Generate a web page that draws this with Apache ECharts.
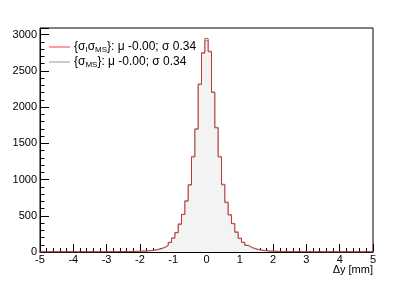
<!DOCTYPE html>
<html><head><meta charset="utf-8">
<script src="https://cdn.jsdelivr.net/npm/echarts@6/dist/echarts.min.js"></script>
<style>html,body{margin:0;padding:0;background:#fff}#c{width:415px;height:281px}</style>
</head><body><div id="c"></div>
<script>
// bin layout: 101 bins of width 0.1 centred on -5.0 ... 5.0
const binLow = -5.05;
const binWidth = 0.1;
const xTicks = [-5,-4,-3,-2,-1,0,1,2,3,4,5];
const yTicks = [0,500,1000,1500,2000,2500,3000];
const seriesNames = ['IMS','MS'];
const legendStats = ['μ -0.00; σ 0.34','μ -0.00; σ 0.34'];
const xTitle = 'Δy [mm]';

// {σ_MS}
const countsMS = [
 0,0,1,0,1,0,1,0,1,1, 1,0,1,1,2,1,2,2,2,3, 3,3,4,4,5,5,6,7,8,9,
 10,12,15,19,25,33,45,62,88,130,
 190,270,380,520,700,930,1310,1700,2310,2750,
 2945,
 2770,2200,1720,1310,935,680,510,390,270,185,
 130,90,64,46,34,25,19,15,12,10,
 8,7,6,5,5,4,4,3,3,3,
 2,2,2,1,2,1,1,1,0,1,
 1,0,1,0,1,0,0,1,0,0
];
// {σ_I σ_MS}
const countsIMS = [
 0,1,0,1,0,1,1,0,1,1, 1,1,1,2,1,2,2,3,3,3, 3,4,4,5,5,6,7,8,9,11,
 12,14,17,22,28,38,50,66,92,135,
 195,265,390,515,710,920,1320,1690,2320,2740,
 2915,
 2760,2210,1710,1320,925,690,515,395,280,195,
 138,96,70,50,37,28,21,16,13,11,
 9,8,6,6,5,4,4,3,3,3,
 2,2,2,2,1,1,2,1,1,1,
 0,1,1,0,1,0,1,0,0,0
];

function steps(counts){
  const pts = counts.map((v,i)=>[+(binLow + i*binWidth).toFixed(3), v]);
  pts.push([+(binLow + counts.length*binWidth).toFixed(3), counts[counts.length-1]]);
  return pts;
}

const FONT = 'Liberation Sans, Arial, Helvetica, sans-serif';
const chart = echarts.init(document.getElementById('c'), null, {renderer:'canvas'});
const legendLabels = {
  IMS: '{n|{σ}{s|I}{n|σ}{s|MS}}{n|: ' + legendStats[0] + '}',
  MS:  '{n|{σ}{s|MS}}{n|: ' + legendStats[1] + '}'
};
chart.setOption({
  animation:false,
  backgroundColor:'#fff',
  grid:{left:40,right:42,top:28,bottom:29,show:true,borderColor:'#000',borderWidth:1,backgroundColor:'#fff'},
  legend:{
    left:49, top:40, orient:'vertical', itemGap:1, itemWidth:21, itemHeight:1.2,
    icon:'rect', padding:0,
    data:[{name:'IMS',itemStyle:{color:'#ff5a5a'}},{name:'MS',itemStyle:{color:'#a8a8a8'}}],
    formatter:name=>legendLabels[name],
    textStyle:{fontFamily:FONT,fontSize:12,color:'#000',lineHeight:14,padding:[0,0,0,-1],
      rich:{n:{fontFamily:FONT,fontSize:12,color:'#000',lineHeight:14},
            s:{fontFamily:FONT,fontSize:8,color:'#000',lineHeight:7,verticalAlign:'bottom'}}}
  },
  xAxis:{type:'value',min:xTicks[0],max:xTicks[xTicks.length-1],interval:1,
    axisLine:{show:true,onZero:false,lineStyle:{color:'#000',width:1}},
    axisTick:{show:true,inside:true,length:8,lineStyle:{color:'#000'}},
    minorTick:{show:true,splitNumber:5,length:4,lineStyle:{color:'#000'}},
    splitLine:{show:false},
    axisLabel:{fontFamily:FONT,fontSize:11,color:'#000',margin:2}
  },
  yAxis:{type:'value',min:yTicks[0],max:3090,interval:500,
    axisLine:{show:true,onZero:false,lineStyle:{color:'#000',width:1}},
    axisTick:{show:true,inside:true,length:9,lineStyle:{color:'#000'}},
    minorTick:{show:true,splitNumber:5,length:4.5,lineStyle:{color:'#000'}},
    splitLine:{show:false},
    axisLabel:{fontFamily:FONT,fontSize:11,color:'#000',margin:3,showMaxLabel:false,
      formatter:v=>yTicks.includes(v)?String(v):''}
  },
  graphic:[{type:'text',right:42,top:264,style:{text:xTitle,font:'11px '+FONT,fill:'#000',textAlign:'right'}}],
  series:[
    {name:'MS',type:'line',step:'end',data:steps(countsMS),symbol:'none',z:2,
     lineStyle:{color:'#7a7a7a',width:1},itemStyle:{color:'#a8a8a8'},
     areaStyle:{color:'#f3f3f3',opacity:1,origin:'start'}},
    {name:'IMS',type:'line',step:'end',data:steps(countsIMS),symbol:'none',z:3,
     lineStyle:{color:'rgba(255,0,0,0.55)',width:1},itemStyle:{color:'#ff5a5a'}}
  ]
});
</script></body></html>
